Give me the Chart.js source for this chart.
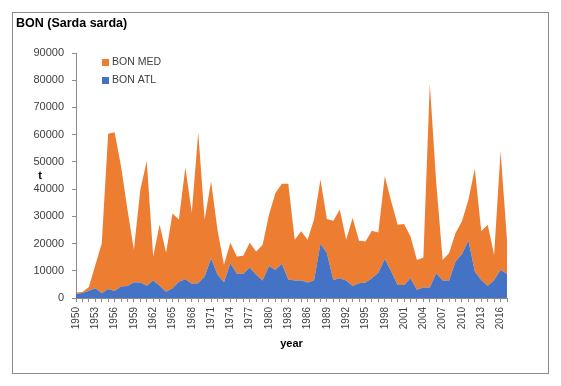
<!DOCTYPE html>
<html>
<head>
<meta charset="utf-8">
<script src="https://cdn.jsdelivr.net/npm/chart.js@4.4.1/dist/chart.umd.min.js"></script>
<style>
  body { margin: 0; background: #fff; }
  #wrap { position: relative; width: 561px; height: 386px; }
  #frame { position: absolute; left: 12px; top: 12px; width: 535px; height: 360px; border: 1px solid #8c8c8c; }
  #bon { position: absolute; left: 0; top: 0; }
</style>
</head>
<body>
<div id="wrap">
  <div id="frame"></div>
  <canvas id="bon" width="561" height="386"></canvas>
</div>
<script>
const years = [
  '1950','1951','1952','1953','1954','1955','1956','1957','1958','1959',
  '1960','1961','1962','1963','1964','1965','1966','1967','1968','1969',
  '1970','1971','1972','1973','1974','1975','1976','1977','1978','1979',
  '1980','1981','1982','1983','1984','1985','1986','1987','1988','1989',
  '1990','1991','1992','1993','1994','1995','1996','1997','1998','1999',
  '2000','2001','2002','2003','2004','2005','2006','2007','2008','2009',
  '2010','2011','2012','2013','2014','2015','2016','2017'
];

// t, Atlantic catches
const bonAtl = [
  1500, 1800, 2700, 3600, 1700, 3300, 2600, 4200, 4400, 5800,
  5700, 4500, 6400, 4500, 2300, 3600, 6000, 6900, 5200, 5400,
  7900, 14600, 8500, 5800, 12800, 8900, 8900, 11200, 8500, 6400,
  11800, 10300, 12600, 6800, 6400, 6400, 5700, 6400, 19900, 16500,
  6600, 7300, 6400, 4400, 5400, 5700, 7300, 9300, 14300, 9700,
  4800, 4800, 7300, 3000, 3900, 3900, 9100, 6400, 6400, 13400,
  16200, 21100, 9700, 6600, 4400, 6600, 10300, 8900
];

// t, Mediterranean catches (stacked on top)
const bonMed = [
  500, 400, 1300, 8400, 18300, 57000, 58300, 44200, 28100, 11900,
  34100, 45800, 8800, 22500, 14300, 27400, 22800, 41100, 26100, 55400,
  20900, 28300, 16500, 6400, 7500, 6300, 6600, 9100, 8600, 13100,
  18800, 28300, 29400, 35200, 15000, 18100, 15700, 22400, 23600, 12500,
  21800, 25200, 15000, 25000, 15600, 15100, 17400, 14800, 30400, 25800,
  22100, 22400, 15300, 11000, 11000, 74700, 33200, 7600, 10100, 10500,
  12000, 15000, 37800, 17900, 22500, 9300, 43700, 12500
];

const fontFamily = '"Liberation Sans", Arial, sans-serif';
const axisColor = '#8c8c8c';

// legend inside the plot (MED above ATL) + upright "t" axis title
const insideLegend = {
  id: 'insideLegend',
  afterDraw(chart) {
    const {ctx, chartArea} = chart;
    const items = [chart.data.datasets[1], chart.data.datasets[0]];
    ctx.save();
    ctx.font = '10.5px ' + fontFamily;
    ctx.textBaseline = 'middle';
    items.forEach((ds, i) => {
      const y = chartArea.top + 9 + i * 18;
      ctx.fillStyle = ds.backgroundColor;
      ctx.fillRect(chartArea.left + 26, y - 3, 7, 7);
      ctx.fillStyle = '#404040';
      ctx.fillText(ds.label, chartArea.left + 36, y + 0.5);
    });
    ctx.font = 'bold 11px ' + fontFamily;
    ctx.fillStyle = '#000';
    ctx.textAlign = 'center';
    ctx.fillText('t', 40, (chartArea.top + chartArea.bottom) / 2);
    ctx.restore();
  }
};

new Chart(document.getElementById('bon'), {
  type: 'line',
  plugins: [insideLegend],
  data: {
    labels: years,
    datasets: [
      {
        label: 'BON ATL',
        data: bonAtl,
        backgroundColor: '#4472C4',
        borderWidth: 0,
        pointRadius: 0,
        fill: 'origin'
      },
      {
        label: 'BON MED',
        data: bonMed,
        backgroundColor: '#ED7D31',
        borderWidth: 0,
        pointRadius: 0,
        fill: '-1'
      }
    ]
  },
  options: {
    responsive: false,
    animation: false,
    layout: {
      padding: { left: 16, right: 54, top: 12, bottom: 34 }
    },
    elements: { line: { tension: 0 } },
    plugins: {
      legend: { display: false },
      tooltip: { enabled: false },
      title: {
        display: true,
        text: 'BON (Sarda sarda)',
        align: 'start',
        color: '#000',
        font: { family: fontFamily, size: 12.5, weight: 'bold' },
        padding: { top: 4, bottom: 22 }
      }
    },
    scales: {
      x: {
        offset: false,
        afterFit(scale) { scale.height = 54; },
        grid: { drawOnChartArea: false, tickLength: 4, color: axisColor },
        border: { color: axisColor },
        ticks: {
          autoSkip: false,
          minRotation: 90,
          maxRotation: 90,
          padding: 5,
          color: '#404040',
          font: { family: fontFamily, size: 10 },
          callback(value) {
            const y = +this.getLabelForValue(value);
            return (y - 1950) % 3 === 0 ? String(y) : '';
          }
        },
        title: {
          display: true,
          text: 'year',
          color: '#000',
          font: { family: fontFamily, size: 11, weight: 'bold' },
          padding: { top: 0, bottom: 1 }
        }
      },
      y: {
        stacked: true,
        min: 0,
        max: 90000,
        afterFit(scale) { scale.width = 60; },
        grid: { drawOnChartArea: false, tickLength: 4, color: axisColor },
        border: { color: axisColor },
        ticks: {
          stepSize: 10000,
          padding: 8,
          color: '#404040',
          font: { family: fontFamily, size: 11 },
          callback: (v) => String(v)
        }
      }
    }
  }
});
</script>
</body>
</html>
